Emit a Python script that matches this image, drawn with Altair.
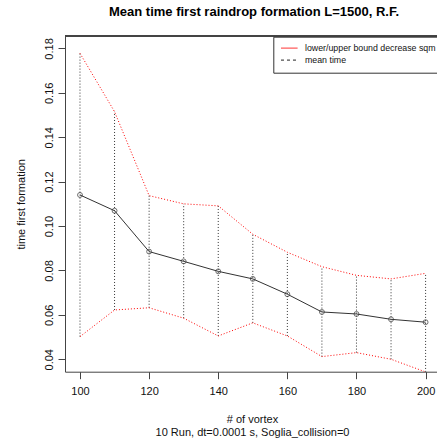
import altair as alt
import pandas as pd

# ---- data ----
vortex = [100, 110, 120, 130, 140, 150, 160, 170, 180, 190, 200]
mean_time = [0.1140, 0.1069, 0.0885, 0.0841, 0.0796, 0.0762, 0.0693, 0.0613, 0.0604, 0.0580, 0.0567]
upper_bound = [0.1778, 0.1515, 0.1137, 0.1100, 0.1091, 0.0963, 0.0882, 0.0817, 0.0778, 0.0762, 0.0787]
lower_bound = [0.0502, 0.0622, 0.0632, 0.0585, 0.0505, 0.0564, 0.0505, 0.0412, 0.0430, 0.0400, 0.0343]
x_ticks = [100, 120, 140, 160, 180, 200]
y_ticks = [0.04, 0.06, 0.08, 0.10, 0.12, 0.14, 0.16, 0.18]
bound_label = "lower/upper bound decrease sqm"
mean_label = "mean time"
legend_labels = [bound_label, mean_label]

FONT = "Liberation Sans"
AX = "#444444"

wide = pd.DataFrame({"vortex": vortex, "mean": mean_time,
                     "upper": upper_bound, "lower": lower_bound})
bounds = pd.concat([
    pd.DataFrame({"vortex": vortex, "value": upper_bound, "part": "upper"}),
    pd.DataFrame({"vortex": vortex, "value": lower_bound, "part": "lower"}),
])
legend_df = pd.DataFrame({"vortex": [vortex[0], vortex[0]],
                          "value": [mean_time[0], mean_time[0]],
                          "series": legend_labels})

PW, PH = 372, 335.7
xs = alt.Scale(domain=[95.66, 203.3], nice=False, zero=False)
ys = alt.Scale(domain=[0.0344, 0.1856], nice=False, zero=False)

x_axis = alt.Axis(values=x_ticks, format="d", grid=False,
                  title=["# of vortex", "10 Run, dt=0.0001 s, Soglia_collision=0"],
                  tickSize=7, tickColor=AX, domainColor=AX, labelPadding=7,
                  labelFlush=False, labelOverlap=False,
                  labelFont=FONT, labelFontSize=11, labelColor="#111",
                  titleFont=FONT, titleFontSize=11, titleFontWeight="normal", titleColor="#111",
                  titleX=187, titleY=50.3, titleAlign="center", titleBaseline="alphabetic",
                  titleLineHeight=13)
y_axis = alt.Axis(values=y_ticks, format=".2f", grid=False,
                  title="time first formation",
                  tickSize=7, tickColor=AX, domainColor=AX,
                  labelAngle=270, labelAlign="center", labelBaseline="bottom", labelPadding=4,
                  labelFlush=False, labelOverlap=False,
                  labelFont=FONT, labelFontSize=11, labelColor="#111",
                  titleFont=FONT, titleFontSize=11, titleFontWeight="normal", titleColor="#111",
                  titleAngle=270, titleX=-43.5, titleY=PH / 2, titleAlign="center",
                  titleBaseline="middle")


def X(field):
    return alt.X(field, type="quantitative", scale=xs, axis=x_axis)


def Y(field):
    return alt.Y(field, type="quantitative", scale=ys, axis=y_axis)


rules = alt.Chart(wide).mark_rule(color="#333", strokeDash=[1, 2], strokeWidth=1, clip=True).encode(
    x=X("vortex"), y=Y("lower"), y2="upper:Q",
)

# top frame line of the plot box
top_frame = alt.Chart(wide).mark_rule(color=AX, strokeWidth=1).encode(
    y=alt.value(0)
)

bound_lines = alt.Chart(bounds).mark_line(color="red", strokeDash=[1, 2], strokeWidth=1, clip=True).encode(
    x=X("vortex"), y=Y("value"), detail="part:N",
)

mean_line = alt.Chart(wide).mark_line(color="#333", strokeWidth=1, clip=True).encode(
    x=X("vortex"), y=Y("mean"),
)

mean_pts = alt.Chart(wide).mark_point(shape="circle", filled=False, size=24, color="#333",
                                      strokeWidth=1, clip=True).encode(
    x=X("vortex"), y=Y("mean"),
)

leg = alt.Legend(title=None,
                 orient="none", legendX=208.3, legendY=0.7,
                 symbolType="stroke", symbolSize=276, symbolStrokeWidth=1,
                 clipHeight=8.8,
                 labelFont=FONT, labelFontSize=8.8, labelColor="#111", labelOffset=6.7,
                 padding=7, strokeColor="#333", fillColor="white", rowPadding=2,
                 labelLimit=300)

legend_layer = alt.Chart(legend_df).mark_line(strokeWidth=1, opacity=0).encode(
    x=X("vortex"), y=Y("value"),
    color=alt.Color("series:N", scale=alt.Scale(domain=legend_labels, range=["#ff3333", "#222222"]),
                    legend=leg),
    strokeDash=alt.StrokeDash("series:N", scale=alt.Scale(domain=legend_labels, range=[[1, 0], [3, 3]]),
                              legend=leg),
)

chart = alt.layer(rules, top_frame, bound_lines, mean_line, mean_pts, legend_layer).properties(
    width=PW, height=PH,
    autosize=alt.AutoSizeParams(type="none"),
    padding={"left": 65, "top": 36, "right": 0, "bottom": 69.3},
    title=alt.Title("Mean time first raindrop formation L=1500, R.F.",
                    font=FONT, fontSize=13, fontWeight="bold", color="black",
                    anchor="middle", frame="group", offset=6.5, baseline="alphabetic", dx=3),
    background="white",
).configure_view(stroke=None)

chart.save("out.html", embed_options={"renderer": "svg", "actions": False})
